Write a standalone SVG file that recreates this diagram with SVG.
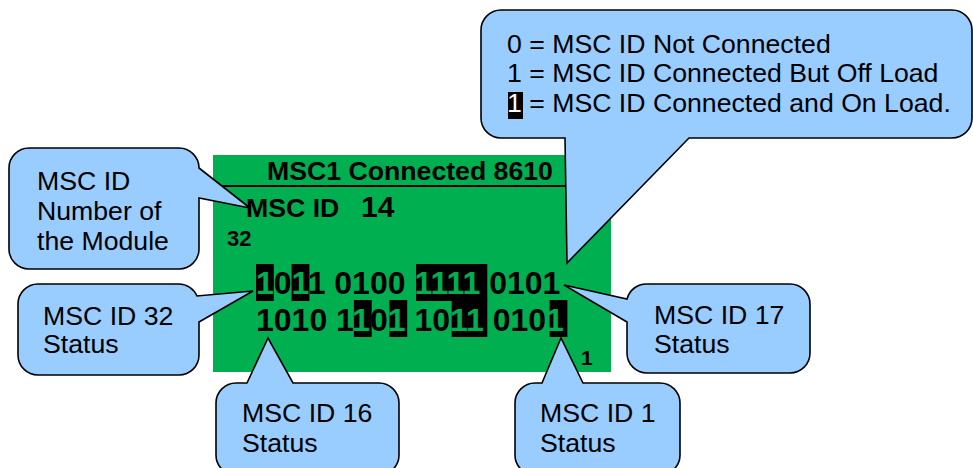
<svg xmlns="http://www.w3.org/2000/svg" width="973" height="468" viewBox="0 0 973 468">
<style>
.co{fill:#99CCFF;stroke:#000;stroke-width:1.6;stroke-linejoin:miter}
.t{font-family:"Liberation Sans",Arial,sans-serif;font-size:26.67px;fill:#000}
.b{font-family:"Liberation Sans",Arial,sans-serif;font-weight:bold;fill:#000}
.hl{fill:#000}
.g{fill:#00B050}
</style>
<rect width="973" height="468" fill="#fff"/>
<g id="display">
<rect x="213" y="155" width="398" height="217" fill="#00B050"/>
<line x1="221" y1="186" x2="611" y2="186" stroke="#000" stroke-width="2"/>
<text class="b" x="267" y="180" font-size="26.67">MSC1 Connected 8610</text>
<text class="b" x="246" y="217" font-size="26.67">MSC ID</text>
<text class="b" x="361" y="217" font-size="30">14</text>
<text class="b" x="227" y="246" font-size="22">32</text>
<text class="b" x="581" y="365" font-size="21">1</text>
<g class="hl">
<rect x="256" y="264" width="17.8" height="37"/>
<rect x="291.6" y="264" width="17.8" height="37"/>
<rect x="416.1" y="264" width="71.2" height="37"/>
<rect x="353.9" y="300" width="17.8" height="37"/>
<rect x="389.4" y="300" width="17.8" height="37"/>
<rect x="451.7" y="300" width="35.6" height="37"/>
<rect x="549.6" y="300" width="17.8" height="37"/>
</g>
<text class="b" x="256" y="294" font-size="32" xml:space="preserve"><tspan class="g">1</tspan>0<tspan class="g">1</tspan>1 0100 <tspan class="g">1111</tspan> 0101</text>
<text class="b" x="256" y="331" font-size="32" xml:space="preserve">1010 1<tspan class="g">1</tspan>0<tspan class="g">1</tspan> 10<tspan class="g">11</tspan> 010<tspan class="g">1</tspan></text>
</g>
<g id="connectors"></g>
<g id="legend">
<path class="co" d="M501,10 H952 A20,20 0 0 1 972,30 V118 A20,20 0 0 1 952,138 H689 L567,263 L565,138 H501 A20,20 0 0 1 481,118 V30 A20,20 0 0 1 501,10 Z"/>
<rect x="508" y="92" width="15" height="27" fill="#000"/>
<text class="t" x="507" y="53">0 = MSC ID Not Connected</text>
<text class="t" x="507" y="82">1 = MSC ID Connected But Off Load</text>
<text class="t" x="507" y="112"><tspan fill="#fff">1</tspan> = MSC ID Connected and On Load.</text>
</g>
<g id="callout-msc-id">
<path class="co" d="M29,148 H179 A20,20 0 0 1 199,168 L250,208 L199,198 V249 A20,20 0 0 1 179,269 H29 A20,20 0 0 1 9,249 V168 A20,20 0 0 1 29,148 Z"/>
<text class="t" x="37" y="190">MSC ID</text>
<text class="t" x="37" y="220">Number of</text>
<text class="t" x="37" y="250">the Module</text>
</g>
<g id="callout-32">
<path class="co" d="M38,284 H179 A20,20 0 0 1 197,296 L253,291 L199,322 V355 A20,20 0 0 1 179,375 H38 A20,20 0 0 1 18,355 V304 A20,20 0 0 1 38,284 Z"/>
<text class="t" x="43" y="325">MSC ID 32</text>
<text class="t" x="43" y="353">Status</text>
</g>
<g id="callout-17">
<path class="co" d="M647,284 H790 A20,20 0 0 1 810,304 V353 A20,20 0 0 1 790,373 H647 A20,20 0 0 1 627,353 V322 L564,285 L627,299 A20,20 0 0 1 647,284 Z"/>
<text class="t" x="654" y="324">MSC ID 17</text>
<text class="t" x="654" y="353">Status</text>
</g>
<g id="callout-16">
<path class="co" d="M236,383 H247 L268,338 L293,383 H379 A20,20 0 0 1 399,403 V455 A20,20 0 0 1 379,475 H236 A20,20 0 0 1 216,455 V403 A20,20 0 0 1 236,383 Z"/>
<text class="t" x="242" y="422">MSC ID 16</text>
<text class="t" x="242" y="452">Status</text>
</g>
<g id="callout-1">
<path class="co" d="M535,383 H542 L561,338 L583,383 H660 A20,20 0 0 1 680,403 V455 A20,20 0 0 1 660,475 H535 A20,20 0 0 1 515,455 V403 A20,20 0 0 1 535,383 Z"/>
<text class="t" x="540" y="422">MSC ID 1</text>
<text class="t" x="540" y="452">Status</text>
</g>
</svg>
